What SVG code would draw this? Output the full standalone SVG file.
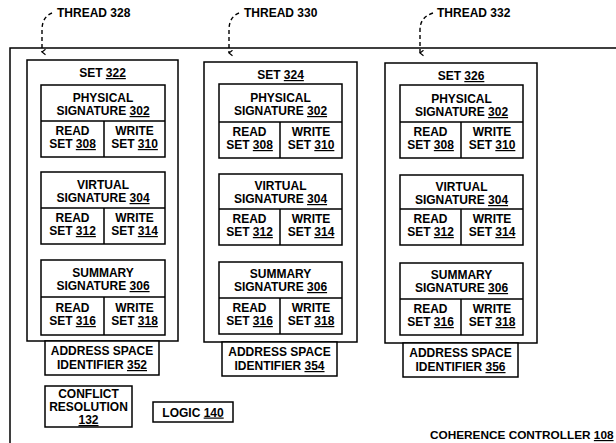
<svg xmlns="http://www.w3.org/2000/svg" width="616" height="443" viewBox="0 0 616 443">
<defs>
<style>
.b{fill:#fff;stroke:#000;stroke-width:1.5}
.l{stroke:#000;stroke-width:1.5;fill:none}
.t{font-family:"Liberation Sans",Arial,sans-serif;font-weight:bold;font-size:12px;fill:#000;text-anchor:middle}
.s{text-anchor:start}
.u{text-decoration:underline}
.d{fill:none;stroke:#000;stroke-width:1.4;stroke-dasharray:4 3}
</style>
<marker id="ah" viewBox="0 0 10 10" refX="5" refY="8" markerWidth="7" markerHeight="7" orient="auto-start-reverse" markerUnits="userSpaceOnUse">
<path d="M1,3 L5,8 L9,3" fill="none" stroke="#000" stroke-width="1.6"/>
</marker>
</defs>
<rect width="616" height="443" fill="#fff"/>

<g id="coherence-controller">
<path class="l" d="M616,48 H10 V443"/>
<text class="t s" x="430" y="439" style="font-size:11.8px">COHERENCE CONTROLLER <tspan class="u">108</tspan></text>
</g>

<g id="thread-328"><text class="t s" x="57" y="17">THREAD 328</text></g>
<g id="thread-330"><text class="t s" x="244" y="17">THREAD 330</text></g>
<g id="thread-332"><text class="t s" x="437" y="17">THREAD 332</text></g>

<g id="connectors">
<path class="d" d="M52,13 Q42,17 42,30 L42,52" marker-end="url(#ah)"/>
<path class="d" d="M239,13 Q229,17 229,30 L229,53" marker-end="url(#ah)"/>
<path class="d" d="M433,13 Q420,17 420,30 L420,53" marker-end="url(#ah)"/>
</g>

<!-- SET 322 -->
<g id="set-322">
<rect class="b" x="27" y="60" width="151" height="281"/>
<text class="t" x="102.5" y="77">SET <tspan class="u">322</tspan></text>
<g id="set-322-physical">
<rect class="b" x="41" y="85" width="124" height="72"/>
<path class="l" d="M41,121 H165 M104,121 V157"/>
<text class="t" x="103" y="102">PHYSICAL</text>
<text class="t" x="103" y="115">SIGNATURE <tspan class="u">302</tspan></text>
<text class="t" x="72.5" y="135">READ</text>
<text class="t" x="72.5" y="148">SET <tspan class="u">308</tspan></text>
<text class="t" x="134.5" y="135">WRITE</text>
<text class="t" x="134.5" y="148">SET <tspan class="u">310</tspan></text>
</g>
<g id="set-322-virtual">
<rect class="b" x="41" y="172" width="124" height="72"/>
<path class="l" d="M41,208 H165 M104,208 V244"/>
<text class="t" x="103" y="189">VIRTUAL</text>
<text class="t" x="103" y="202">SIGNATURE <tspan class="u">304</tspan></text>
<text class="t" x="72.5" y="222">READ</text>
<text class="t" x="72.5" y="235">SET <tspan class="u">312</tspan></text>
<text class="t" x="134.5" y="222">WRITE</text>
<text class="t" x="134.5" y="235">SET <tspan class="u">314</tspan></text>
</g>
<g id="set-322-summary">
<rect class="b" x="41" y="260" width="124" height="75"/>
<path class="l" d="M41,297 H165 M104,297 V335"/>
<text class="t" x="103" y="277">SUMMARY</text>
<text class="t" x="103" y="290">SIGNATURE <tspan class="u">306</tspan></text>
<text class="t" x="72.5" y="312">READ</text>
<text class="t" x="72.5" y="325">SET <tspan class="u">316</tspan></text>
<text class="t" x="134.5" y="312">WRITE</text>
<text class="t" x="134.5" y="325">SET <tspan class="u">318</tspan></text>
</g>
</g>
<g id="asi-352">
<rect class="b" x="45" y="341" width="114" height="34"/>
<text class="t" x="102" y="355">ADDRESS SPACE</text>
<text class="t" x="102" y="369">IDENTIFIER <tspan class="u">352</tspan></text>
</g>

<!-- SET 324 -->
<g id="set-324">
<rect class="b" x="204" y="62" width="153" height="280"/>
<text class="t" x="280.5" y="79">SET <tspan class="u">324</tspan></text>
<g id="set-324-physical">
<rect class="b" x="219" y="84" width="123" height="74"/>
<path class="l" d="M219,122 H342 M280,122 V158"/>
<text class="t" x="280.5" y="102">PHYSICAL</text>
<text class="t" x="280.5" y="115">SIGNATURE <tspan class="u">302</tspan></text>
<text class="t" x="249.5" y="136">READ</text>
<text class="t" x="249.5" y="149">SET <tspan class="u">308</tspan></text>
<text class="t" x="311" y="136">WRITE</text>
<text class="t" x="311" y="149">SET <tspan class="u">310</tspan></text>
</g>
<g id="set-324-virtual">
<rect class="b" x="219" y="174" width="123" height="71"/>
<path class="l" d="M219,209 H342 M280,209 V245"/>
<text class="t" x="280.5" y="190">VIRTUAL</text>
<text class="t" x="280.5" y="203">SIGNATURE <tspan class="u">304</tspan></text>
<text class="t" x="249.5" y="223">READ</text>
<text class="t" x="249.5" y="236">SET <tspan class="u">312</tspan></text>
<text class="t" x="311" y="223">WRITE</text>
<text class="t" x="311" y="236">SET <tspan class="u">314</tspan></text>
</g>
<g id="set-324-summary">
<rect class="b" x="219" y="262" width="123" height="72"/>
<path class="l" d="M219,298 H342 M280,298 V334"/>
<text class="t" x="280.5" y="278">SUMMARY</text>
<text class="t" x="280.5" y="291">SIGNATURE <tspan class="u">306</tspan></text>
<text class="t" x="249.5" y="312">READ</text>
<text class="t" x="249.5" y="325">SET <tspan class="u">316</tspan></text>
<text class="t" x="311" y="312">WRITE</text>
<text class="t" x="311" y="325">SET <tspan class="u">318</tspan></text>
</g>
</g>
<g id="asi-354">
<rect class="b" x="222" y="342" width="115" height="34"/>
<text class="t" x="279.5" y="356">ADDRESS SPACE</text>
<text class="t" x="279.5" y="370">IDENTIFIER <tspan class="u">354</tspan></text>
</g>

<!-- SET 326 -->
<g id="set-326">
<rect class="b" x="385" y="63" width="152" height="280"/>
<text class="t" x="461" y="80">SET <tspan class="u">326</tspan></text>
<g id="set-326-physical">
<rect class="b" x="400" y="85" width="123" height="73"/>
<path class="l" d="M400,122 H523 M461,122 V158"/>
<text class="t" x="461.5" y="103">PHYSICAL</text>
<text class="t" x="461.5" y="116">SIGNATURE <tspan class="u">302</tspan></text>
<text class="t" x="430.5" y="136">READ</text>
<text class="t" x="430.5" y="149">SET <tspan class="u">308</tspan></text>
<text class="t" x="492" y="136">WRITE</text>
<text class="t" x="492" y="149">SET <tspan class="u">310</tspan></text>
</g>
<g id="set-326-virtual">
<rect class="b" x="400" y="175" width="123" height="70"/>
<path class="l" d="M400,209 H523 M461,209 V245"/>
<text class="t" x="461.5" y="191">VIRTUAL</text>
<text class="t" x="461.5" y="204">SIGNATURE <tspan class="u">304</tspan></text>
<text class="t" x="430.5" y="223">READ</text>
<text class="t" x="430.5" y="236">SET <tspan class="u">312</tspan></text>
<text class="t" x="492" y="223">WRITE</text>
<text class="t" x="492" y="236">SET <tspan class="u">314</tspan></text>
</g>
<g id="set-326-summary">
<rect class="b" x="400" y="263" width="123" height="72"/>
<path class="l" d="M400,299 H523 M461,299 V335"/>
<text class="t" x="461.5" y="279">SUMMARY</text>
<text class="t" x="461.5" y="292">SIGNATURE <tspan class="u">306</tspan></text>
<text class="t" x="430.5" y="313">READ</text>
<text class="t" x="430.5" y="326">SET <tspan class="u">316</tspan></text>
<text class="t" x="492" y="313">WRITE</text>
<text class="t" x="492" y="326">SET <tspan class="u">318</tspan></text>
</g>
</g>
<g id="asi-356">
<rect class="b" x="403" y="343" width="115" height="34"/>
<text class="t" x="460.5" y="357">ADDRESS SPACE</text>
<text class="t" x="460.5" y="371">IDENTIFIER <tspan class="u">356</tspan></text>
</g>

<g id="conflict-resolution">
<rect class="b" x="45" y="386" width="87" height="41"/>
<text class="t" x="88.5" y="398">CONFLICT</text>
<text class="t" x="88.5" y="411">RESOLUTION</text>
<text class="t u" x="88.5" y="424">132</text>
</g>
<g id="logic-140">
<rect class="b" x="153" y="402" width="80" height="20"/>
<text class="t" x="193" y="416.5">LOGIC <tspan class="u">140</tspan></text>
</g>
</svg>
